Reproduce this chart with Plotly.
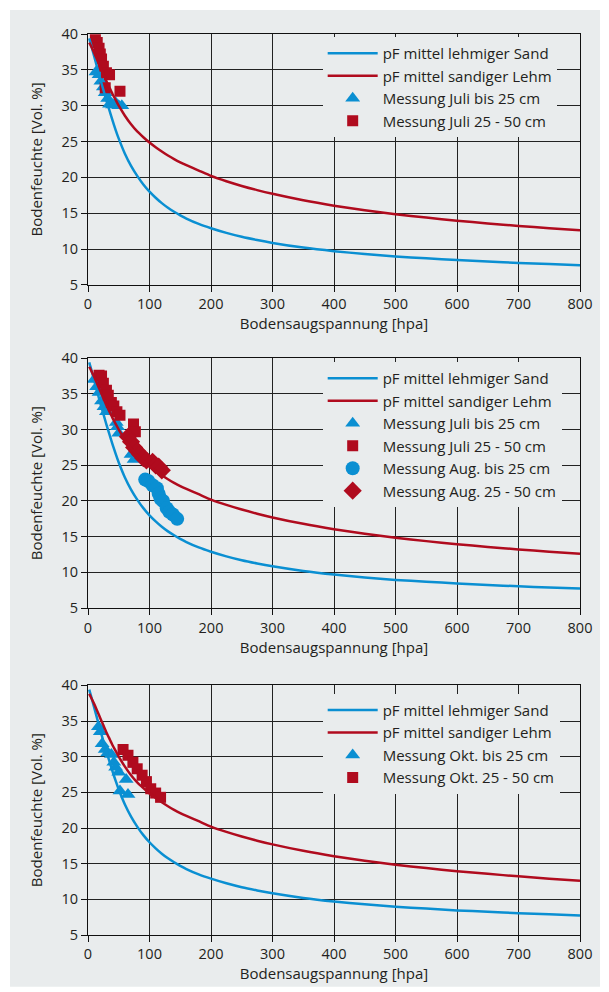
import plotly.graph_objects as go
from plotly.subplots import make_subplots

# ---- data ----
curve_x = [2, 5, 10, 15, 20, 25, 30, 35, 40, 45, 50, 60, 70, 80, 90, 100, 110, 120, 130, 140, 150, 160, 180,
           200, 225, 250, 275, 300, 350, 400, 450, 500, 550, 600, 650, 700, 750, 800]
sand_y = [39.4, 38.5, 36.9, 35.3, 33.7, 32.2, 30.7, 29.3, 27.9, 26.6, 25.4, 23.3, 21.6, 20.2, 19.0, 18.0, 17.15,
          16.4, 15.75, 15.2, 14.7, 14.25, 13.5, 12.9, 12.25, 11.7, 11.25, 10.85, 10.2, 9.7, 9.3, 8.95, 8.7, 8.45,
          8.25, 8.05, 7.9, 7.75]
lehm_y = [38.8, 38.3, 37.4, 36.4, 35.4, 34.4, 33.4, 32.5, 31.6, 30.8, 30.0, 28.6, 27.4, 26.4, 25.6, 24.85, 24.2,
          23.6, 23.05, 22.55, 22.1, 21.7, 20.95, 20.2, 19.45, 18.8, 18.22, 17.7, 16.8, 16.05, 15.4, 14.85, 14.38,
          13.95, 13.57, 13.22, 12.9, 12.6]

# panel 1 (Juli)
p1_tri_x = [13, 18, 21, 25, 28, 32, 35, 40, 45, 50, 55]
p1_tri_y = [34.7, 34.3, 33.4, 32.6, 31.8, 31.0, 30.2, 30.1, 30.4, 30.0, 30.0]
p1_sq_x = [12, 15, 18, 20, 22, 25, 30, 35, 28, 52]
p1_sq_y = [39.2, 38.8, 38.0, 37.2, 36.5, 35.5, 34.6, 34.3, 32.5, 32.0]

# panel 2 (Juli + Aug.)
p2_tri_x = [10, 14, 18, 22, 26, 30, 46, 48, 50, 70, 75]
p2_tri_y = [37.0, 36.0, 35.2, 34.0, 33.2, 32.5, 31.0, 30.4, 29.5, 26.5, 25.8]
p2_sq_x = [18, 22, 25, 30, 33, 38, 42, 47, 52, 74, 77]
p2_sq_y = [37.6, 37.5, 36.5, 35.5, 34.8, 33.8, 33.3, 32.5, 32.0, 30.8, 29.7]
p2_circ_x = [93, 98, 105, 112, 115, 118, 122, 128, 132, 138, 145]
p2_circ_y = [23.0, 22.8, 22.2, 21.8, 21.0, 20.3, 20.0, 19.0, 18.5, 18.1, 17.5]
p2_dia_x = [65, 70, 75, 80, 85, 90, 95, 105, 110, 115, 120]
p2_dia_y = [29.0, 28.3, 27.5, 27.0, 26.5, 26.0, 25.7, 25.5, 25.0, 24.8, 24.3]

# panel 3 (Okt.)
p3_tri_x = [17, 20, 23, 28, 32, 38, 42, 45, 50, 52, 62, 65]
p3_tri_y = [34.2, 33.5, 31.8, 31.0, 30.5, 30.3, 29.2, 28.5, 27.8, 25.2, 26.8, 24.7]
p3_sq_x = [57, 65, 73, 80, 88, 95, 102, 110, 118]
p3_sq_y = [31.0, 30.2, 29.2, 28.3, 27.4, 26.5, 25.5, 24.9, 24.3]

x_ticks = [0, 100, 200, 300, 400, 500, 600, 700, 800]
y_ticks = [5, 10, 15, 20, 25, 30, 35, 40]

# ---- style ----
BG = "#e9eced"
BLUE = "#0a8fd2"
RED = "#b00b1e"
TXT = "#231f20"
FONT = "Open Sans"

fig = make_subplots(rows=3, cols=1, vertical_spacing=0.05)

doms = [(0.7216, 1.0), (0.3628, 0.6402), (0.0, 0.2771)]


def add_markers(row, x, y, name, symbol, color, size, rank, leg):
    fig.add_trace(go.Scatter(x=x, y=y, mode="markers", name=name,
                             marker=dict(symbol=symbol, color=color, size=size, line=dict(width=0)),
                             legend=leg, legendrank=rank), row=row, col=1)


def add_curves(row, leg):
    fig.add_trace(go.Scatter(x=curve_x, y=sand_y, mode="lines", name="pF mittel lehmiger Sand",
                             line=dict(color=BLUE, width=2.5, shape="spline", smoothing=0.6),
                             legend=leg, legendrank=1), row=row, col=1)
    fig.add_trace(go.Scatter(x=curve_x, y=lehm_y, mode="lines", name="pF mittel sandiger Lehm",
                             line=dict(color=RED, width=2.5, shape="spline", smoothing=0.6),
                             legend=leg, legendrank=2), row=row, col=1)


# panel 1
add_markers(1, p1_tri_x, p1_tri_y, "Messung Juli bis 25 cm", "triangle-up", BLUE, 13, 3, "legend")
add_markers(1, p1_sq_x, p1_sq_y, "Messung Juli 25 - 50 cm", "square", RED, 11, 4, "legend")
add_curves(1, "legend")

# panel 2
add_markers(2, p2_tri_x, p2_tri_y, "Messung Juli bis 25 cm", "triangle-up", BLUE, 13, 3, "legend2")
add_markers(2, p2_sq_x, p2_sq_y, "Messung Juli 25 - 50 cm", "square", RED, 11, 4, "legend2")
add_markers(2, p2_circ_x, p2_circ_y, "Messung Aug. bis 25 cm", "circle", BLUE, 14, 5, "legend2")
add_markers(2, p2_dia_x, p2_dia_y, "Messung Aug. 25 - 50 cm", "diamond", RED, 14, 6, "legend2")
add_curves(2, "legend2")

# panel 3
add_markers(3, p3_tri_x, p3_tri_y, "Messung Okt. bis 25 cm", "triangle-up", BLUE, 13, 3, "legend3")
add_markers(3, p3_sq_x, p3_sq_y, "Messung Okt. 25 - 50 cm", "square", RED, 11, 4, "legend3")
add_curves(3, "legend3")

for i in range(3):
    xa = "xaxis" if i == 0 else f"xaxis{i+1}"
    ya = "yaxis" if i == 0 else f"yaxis{i+1}"
    fig.layout[xa].update(
        domain=[0, 1], range=[0, 800], tickvals=x_ticks, ticks="outside", ticklen=6,
        tickcolor="#111", showgrid=True, gridcolor="#222", gridwidth=1, showline=True,
        linecolor="#111", linewidth=1, mirror=True, zeroline=False,
        tickfont=dict(family=FONT, size=14.5, color=TXT),
        title=dict(text="Bodensaugspannung [hpa]", font=dict(family=FONT, size=15, color=TXT), standoff=6),
    )
    fig.layout[ya].update(
        domain=list(doms[i]), range=[5, 40], tickvals=y_ticks, ticks="outside", ticklen=6,
        tickcolor="#111", showgrid=True, gridcolor="#222", gridwidth=1, showline=True,
        linecolor="#111", linewidth=1, mirror=True, zeroline=False,
        tickfont=dict(family=FONT, size=14.5, color=TXT),
        title=dict(text="Bodenfeuchte [Vol. %]", font=dict(family=FONT, size=15, color=TXT), standoff=15),
    )

leg_common = dict(bgcolor=BG, borderwidth=0, font=dict(family=FONT, size=15, color=TXT),
                  xanchor="left", yanchor="top", itemwidth=50, tracegroupgap=0)
fig.update_layout(
    width=601, height=984,
    margin=dict(l=80, r=29, t=26, b=54),
    paper_bgcolor="white", plot_bgcolor=BG,
    font=dict(family=FONT, color=TXT),
    legend=dict(x=0.477, y=0.9967, **leg_common),
    legend2=dict(x=0.477, y=0.636, **leg_common),
    legend3=dict(x=0.477, y=0.2677, **leg_common),
    shapes=[dict(type="rect", xref="paper", yref="paper", x0=-0.1585, x1=1.0407,
                 y0=-0.0575, y1=1.0265, fillcolor=BG, line=dict(width=0), layer="below")],
)

fig.write_html("out.html")
